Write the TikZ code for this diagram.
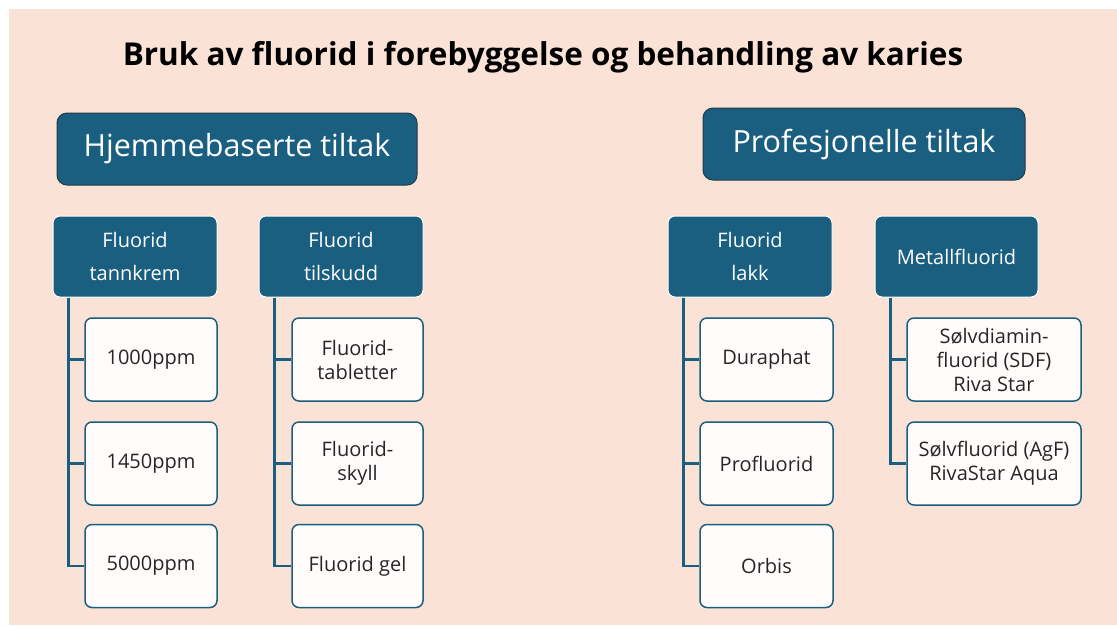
\documentclass[tikz,border=0pt]{standalone}
\usepackage{fontspec}
\setmainfont{Open Sans}
\definecolor{peach}{HTML}{FBE2D6}
\definecolor{fteal}{HTML}{1A5F80}
\definecolor{hdrline}{HTML}{1E3B4B}
\definecolor{leaffill}{HTML}{FFFCFB}

\begin{document}
\begin{tikzpicture}[x=1pt, y=-1pt,
  main/.style={draw=hdrline, line width=1pt, fill=fteal, rounded corners=10pt, text=white, font=\fontsize{30.5}{36}\selectfont, minimum height=72pt, inner sep=0pt},
  group/.style={draw=white, line width=1pt, fill=fteal, rounded corners=7pt, text=white, font=\fontsize{20}{33}\selectfont, align=center, minimum width=164pt, minimum height=81pt, inner sep=0pt},
  leaf/.style={draw=fteal, line width=1.5pt, fill=leaffill, rounded corners=7pt, text=black!85, font=\fontsize{20}{24}\selectfont, align=center, minimum height=83pt, inner sep=0pt},
  link/.style={draw=fteal, line width=2.5pt}]
\useasboundingbox (0,0) rectangle (1117,625);
\fill[peach] (9,9) rectangle (1117,625);
\node[font=\fontsize{31.5}{36}\selectfont\bfseries] (title) at (543,57) {Bruk av fluorid i forebyggelse og behandling av karies};
% the two main groups
\node[main, minimum width=360pt] (home) at (237,149) {Hjemmebaserte tiltak};
\node[main, minimum width=322pt] (prof) at (864,144) {Profesjonelle tiltak};
% sub groups
\node[group] (paste) at (135,256.5) {Fluorid\\tannkrem};
\node[group] (supp) at (341,256.5) {Fluorid\\tilskudd};
\node[group] (lakk) at (750,256.5) {Fluorid\\lakk};
\node[group, minimum width=163pt] (metal) at (956.5,256.5) {Metallfluorid};
\foreach \g in {paste,supp,lakk,metal} \coordinate (\g-r) at ([xshift=16pt]\g.south west);
% leaves
\foreach \n/\y/\t in {p1/359.5/1000ppm, p2/463.5/1450ppm, p3/566/5000ppm} {
  \node[leaf, minimum width=132pt] (\n) at (151,\y) {\t};}
\foreach \n/\y/\t in {s1/359.5/{Fluorid-\\tabletter}, s2/463.5/{Fluorid-\\skyll}, s3/566/{Fluorid gel}} {
  \node[leaf, minimum width=131pt] (\n) at (357.5,\y) {\t};}
\foreach \n/\y/\t in {l1/359.5/Duraphat, l2/463.5/Profluorid, l3/566/Orbis} {
  \node[leaf, minimum width=133pt] (\n) at (766.5,\y) {\t};}
\foreach \n/\y/\t in {m1/359.5/{Sølvdiamin-\\fluorid (SDF)\\Riva Star}, m2/463.5/{Sølvfluorid (AgF)\\RivaStar Aqua}} {
  \node[leaf, minimum width=174pt] (\n) at (994,\y) {\t};}
% connectors
\foreach \c in {p1,p2,p3} \draw[link] (paste-r) |- (\c.west);
\foreach \c in {s1,s2,s3} \draw[link] (supp-r) |- (\c.west);
\foreach \c in {l1,l2,l3} \draw[link] (lakk-r) |- (\c.west);
\foreach \c in {m1,m2} \draw[link] (metal-r) |- (\c.west);
\end{tikzpicture}
\end{document}
